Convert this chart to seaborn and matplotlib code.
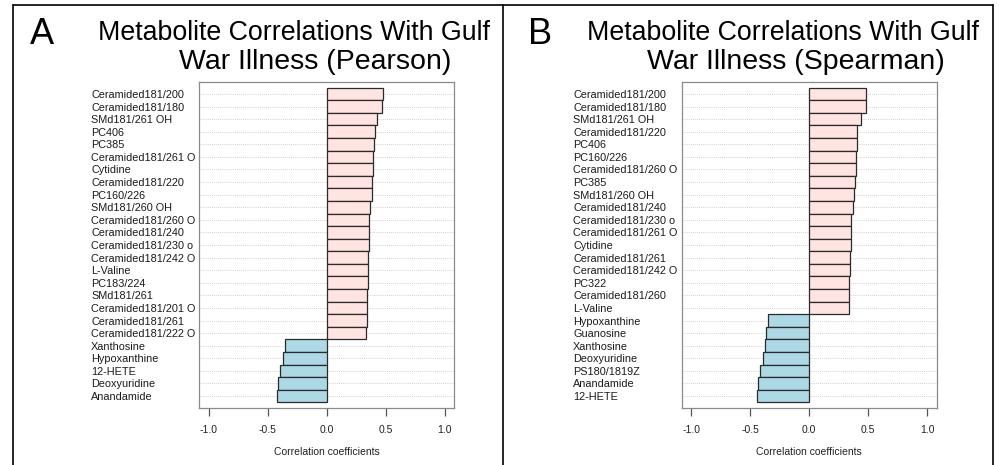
import matplotlib
matplotlib.use("Agg")
import matplotlib.pyplot as plt
from matplotlib.lines import Line2D
import seaborn as sns
import pandas as pd

# ---------------- data ----------------
pearson_names = [
    "Ceramided181/200", "Ceramided181/180", "SMd181/261 OH", "PC406", "PC385",
    "Ceramided181/261 O", "Cytidine", "Ceramided181/220", "PC160/226",
    "SMd181/260 OH", "Ceramided181/260 O", "Ceramided181/240",
    "Ceramided181/230 o", "Ceramided181/242 O", "L-Valine", "PC183/224",
    "SMd181/261", "Ceramided181/201 O", "Ceramided181/261", "Ceramided181/222 O",
    "Xanthosine", "Hypoxanthine", "12-HETE", "Deoxyuridine", "Anandamide",
]
pearson_values = [
    0.480, 0.467, 0.425, 0.405, 0.397,
    0.395, 0.388, 0.387, 0.386,
    0.366, 0.360, 0.359,
    0.355, 0.347, 0.346, 0.345,
    0.341, 0.340, 0.339, 0.330,
    -0.353, -0.370, -0.400, -0.410, -0.420,
]

spearman_names = [
    "Ceramided181/200", "Ceramided181/180", "SMd181/261 OH", "Ceramided181/220",
    "PC406", "PC160/226", "Ceramided181/260 O", "PC385", "SMd181/260 OH",
    "Ceramided181/240", "Ceramided181/230 o", "Ceramided181/261 O", "Cytidine",
    "Ceramided181/261", "Ceramided181/242 O", "PC322", "Ceramided181/260",
    "L-Valine", "Hypoxanthine", "Guanosine", "Xanthosine", "Deoxyuridine",
    "PS180/1819Z", "Anandamide", "12-HETE",
]
spearman_values = [
    0.478, 0.477, 0.440, 0.407,
    0.405, 0.400, 0.393, 0.385, 0.376,
    0.368, 0.357, 0.354, 0.351,
    0.348, 0.342, 0.341, 0.340,
    0.334, -0.345, -0.365, -0.373, -0.393,
    -0.416, -0.430, -0.439,
]

panel_letters = ["A", "B"]
title_line1 = "Metabolite Correlations With Gulf"
title_line2 = ["War Illness (Pearson)", "War Illness (Spearman)"]
xtick_values = [-1.0, -0.5, 0.0, 0.5, 1.0]
xtick_labels = ["-1.0", "-0.5", "0.0", "0.5", "1.0"]
x_label = "Correlation coefficients"

POS_COLOR = "#FFE4E1"
NEG_COLOR = "#ADD8E6"

# ---------------- figure ----------------
sns.set_theme(style="white")
plt.rcParams["font.family"] = ["Liberation Sans", "DejaVu Sans"]
plt.rcParams["axes.unicode_minus"] = False

W, H = 999, 465
fig = plt.figure(figsize=(W / 100, H / 100), dpi=100)
fig.patch.set_facecolor("white")


def fx(px):
    return px / W


def fy(py):
    return 1 - py / H


panels = [
    (pearson_names, pearson_values, 199.3, 91, 294.5, 315.5, 42),
    (spearman_names, spearman_values, 681.7, 573, 783, 796, 540),
]

for i, (names, vals, ax_left, lab_left, t1x, t2x, letter_x) in enumerate(panels):
    df = pd.DataFrame({
        "name": names,
        "value": vals,
        "sign": ["pos" if v >= 0 else "neg" for v in vals],
    })
    ax = fig.add_axes([fx(ax_left), fy(408), 255 / W, 326 / H])
    sns.barplot(
        data=df, x="value", y="name", hue="sign", orient="h",
        palette={"pos": POS_COLOR, "neg": NEG_COLOR},
        dodge=False, width=1.0, legend=False, ax=ax,
        edgecolor="#2b2b2b", linewidth=0.9, saturation=1,
    )
    n = len(names)
    ax.set_ylim(n - 0.5 + 0.45, -0.5 - 0.45)
    ax.set_xlim(-1.08, 1.08)
    ax.set_axisbelow(True)
    ax.yaxis.grid(True, linestyle=(0, (1, 1.5)), color="#c0c0c0", linewidth=0.6)
    ax.xaxis.grid(False)
    for s in ax.spines.values():
        s.set_color("#8a8a8a")
        s.set_linewidth(0.9)
        s.set_visible(True)

    ax.set_xticks(xtick_values)
    ax.set_xticklabels(xtick_labels, fontsize=7.5, color="#222222")
    ax.tick_params(axis="x", direction="out", length=6, width=0.9,
                   color="#555555", pad=6, bottom=True)
    ax.set_yticks(range(n))
    ax.set_yticklabels(names, fontsize=7.8, color="#1a1a1a", ha="left")
    ax.tick_params(axis="y", length=0, pad=(ax_left - lab_left) * 0.72)
    ax.set_ylabel("")
    ax.set_xlabel(x_label, fontsize=7.5, color="#222222", labelpad=9)

    fig.text(fx(t1x), fy(33), title_line1, fontsize=19.3, ha="center",
             va="center", color="black")
    fig.text(fx(t2x), fy(62), title_line2[i], fontsize=20.5, ha="center",
             va="center", color="black")
    fig.text(fx(letter_x), fy(35), panel_letters[i], fontsize=26, ha="center",
             va="center", color="black")

# outer frame lines
lw = 1.2
for xpx in (13, 503, 993):
    fig.add_artist(Line2D([fx(xpx), fx(xpx)], [0, fy(5)], color="black",
                          linewidth=lw, transform=fig.transFigure))
fig.add_artist(Line2D([fx(13), fx(993)], [fy(5), fy(5)], color="black",
                      linewidth=lw, transform=fig.transFigure))

fig.savefig("out.png", dpi=100, facecolor="white")
